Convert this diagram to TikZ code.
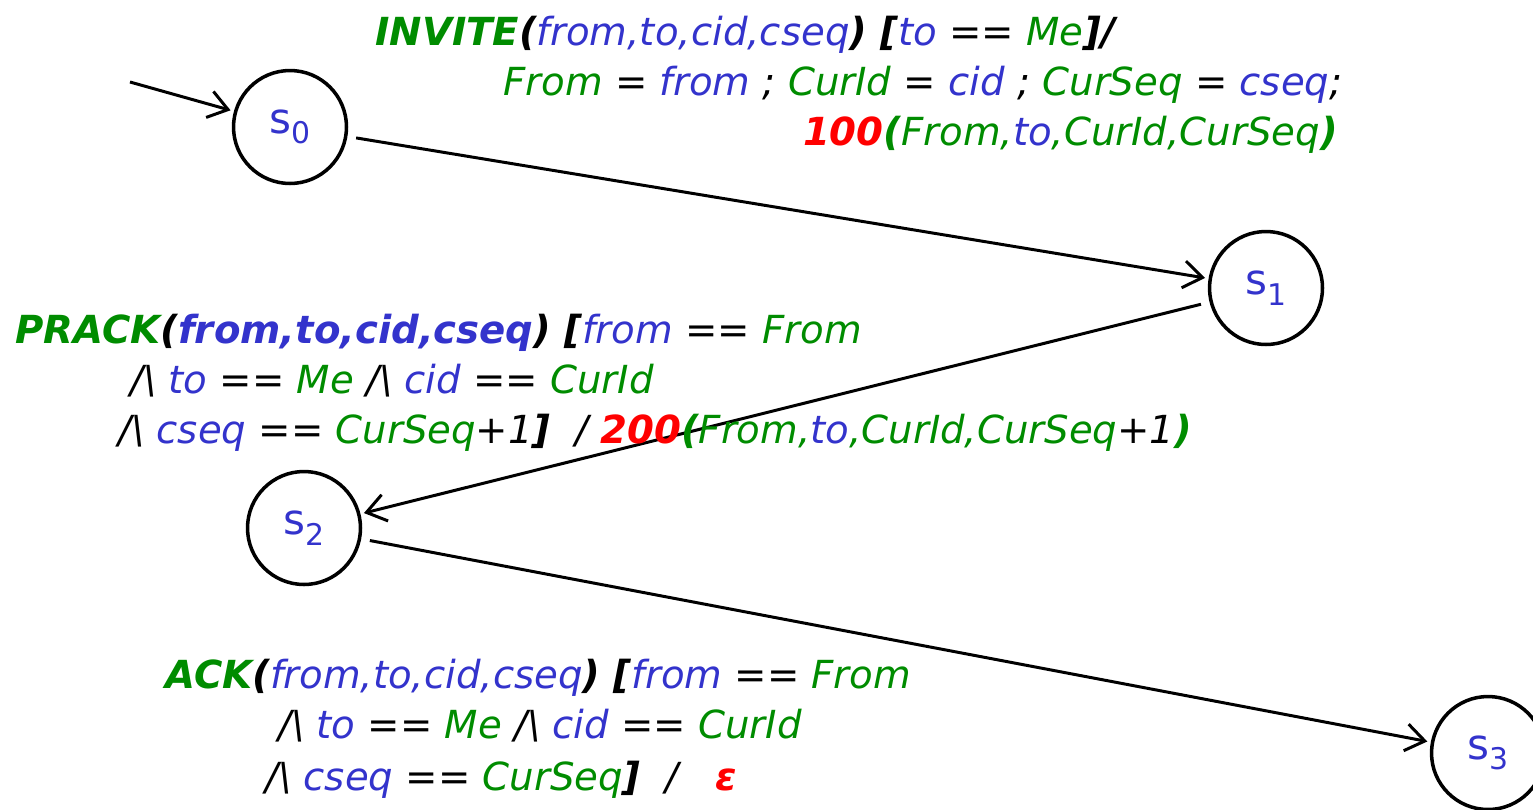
\documentclass[tikz,border=0pt]{standalone}
\usepackage{fontspec}
\setmainfont{DejaVu Sans}[ItalicFont={DejaVu Sans Oblique}, BoldFont={DejaVu Sans Bold}, BoldItalicFont={DejaVu Sans Bold Oblique}]
\usepackage{tikz}
\usetikzlibrary{arrows.meta, positioning}
\usepackage{xcolor}
\definecolor{sipgreen}{RGB}{0,140,0}
\definecolor{sipblue}{RGB}{51,51,204}
\definecolor{sipred}{RGB}{255,0,0}

% couleurs des morceaux de texte
\newcommand{\cst}[1]{\textcolor{sipgreen}{#1}}
\newcommand{\cvar}[1]{\textcolor{sipblue}{#1}}
\newcommand{\cnum}[1]{\textcolor{sipred}{\bfseries #1}}
\newcommand{\kw}[1]{{\bfseries #1}}
\newcommand{\andop}{/\textbackslash}

\tikzset{
    state/.style={circle, draw, line width=2pt, minimum size=2.26cm, inner sep=0pt,
        font=\fontsize{24}{24}\selectfont, text=sipblue},
    lbl/.style={anchor=base west, inner sep=0pt, font=\fontsize{22}{28}\selectfont\itshape},
    trans/.style={->, line width=1.7pt, shorten >=2pt}
}

\begin{document}
\begin{tikzpicture}[x=0.02cm, y=-0.02cm, >={Straight Barb[length=3.8mm, width=5.4mm, line width=1.7pt]}]
        \useasboundingbox (0,0) rectangle (1533,809);

        % --- Etats ---
        \node[state] (s0) at (290,127) {s\raisebox{-0.45ex}{\fontsize{17}{17}\selectfont 0}};
        \node[state] (s1) at (1266,288) {s\raisebox{-0.45ex}{\fontsize{17}{17}\selectfont 1}};
        \node[state] (s2) at (304,528) {s\raisebox{-0.45ex}{\fontsize{17}{17}\selectfont 2}};
        \node[state] (s3) at (1488,753) {s\raisebox{-0.45ex}{\fontsize{17}{17}\selectfont 3}};

        % --- Transitions ---
        \coordinate (init) at (130,82);
        \draw[trans] (init) -- (s0);
        \draw[trans, shorten <=5pt] (s0) -- (s1);
        \draw[trans, shorten <=5pt] (s1) -- (s2);
        \draw[trans, shorten <=5pt] (s2) -- (s3);

        % --- Etiquette INVITE ---
        \node[lbl] (inviteA) at (375,45)
            {\cst{\kw{INVITE}}\kw{(}\cvar{from,to,cid,cseq}\kw{) [}\cvar{to} == \cst{Me}\kw{]/}};
        \node[lbl] (inviteB) at (503,95)
            {\cst{From} = \cvar{from} ; \cst{CurId} = \cvar{cid} ; \cst{CurSeq} = \cvar{cseq};};
        \node[lbl, anchor=base east] (inviteC) at (1338,145)
            {\cnum{100}\cst{\kw{(}From,}\cvar{to}\cst{,CurId,CurSeq\kw{)}}};

        % --- Etiquette PRACK ---
        \node[lbl] (prackA) at (15,343)
            {\cst{\kw{PRACK}}\kw{(}\cvar{\kw{from,to,cid,cseq}}\kw{) [}\cvar{from} == \cst{From}};
        \node[lbl] (prackB) at (130,393)
            {\andop\ \cvar{to} == \cst{Me} \andop\ \cvar{cid} == \cst{CurId}};
        \node[lbl] (prackC) at (118,443)
            {\andop\ \cvar{cseq} == \cst{CurSeq}+1\kw{]}\ \ / \cnum{200}\cst{\kw{(}From,}\cvar{to}\cst{,CurId,CurSeq}+1\cst{\kw{)}}};

        % --- Etiquette ACK ---
        \node[lbl] (ackA) at (165,688)
            {\cst{\kw{ACK}}\kw{(}\cvar{from,to,cid,cseq}\kw{) [}\cvar{from} == \cst{From}};
        \node[lbl] (ackB) at (278,738)
            {\andop\ \cvar{to} == \cst{Me} \andop\ \cvar{cid} == \cst{CurId}};
        \node[lbl] (ackC) at (265,790)
            {\andop\ \cvar{cseq} == \cst{CurSeq}\kw{]}\ \ /\ \ \ \cnum{ε}};
\end{tikzpicture}
\end{document}
